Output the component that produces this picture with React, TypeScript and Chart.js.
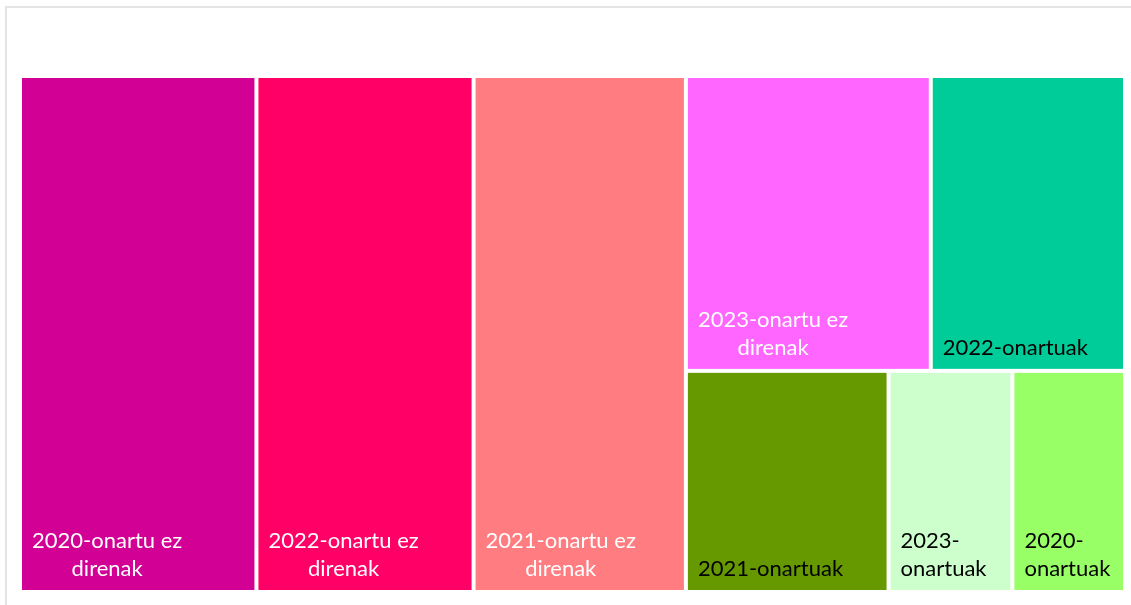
import React, { useEffect, useRef } from "react";
import { Chart, registerables } from "chart.js";

Chart.register(...registerables);

// ---- data ----
const categories = [
  "2020-onartu ez direnak",
  "2022-onartu ez direnak",
  "2021-onartu ez direnak",
  "2023-onartu ez direnak",
  "2022-onartuak",
  "2021-onartuak",
  "2023-onartuak",
  "2020-onartuak",
];
const values = [49, 45, 44, 29, 23, 18, 11, 10];
const fillColors = ["#D20094", "#FF0066", "#FF7C80", "#FF66FF", "#00CC99", "#669900", "#CCFFCC", "#99FF66"];
const labelColors = ["#FFFFFF", "#FFFFFF", "#FFFFFF", "#FFFFFF", "#000000", "#000000", "#000000", "#000000"];

const TARGET_HW = 1.3; // preferred height/width of a tile
const FONT = "22px Lato";

type Cell = { i: number; x0: number; y0: number; x1: number; y1: number };

// squarified treemap in data units [0,1]x[0,1], aspect judged in pixels
function layoutTreemap(vals: number[], pxX: number, pxY: number): Cell[] {
  const order = vals.map((_, i) => i).sort((a, b) => vals[b] - vals[a]);
  let x0 = 0, y0 = 0, x1 = 1, y1 = 1;
  const cells: Cell[] = [];
  let k = 0;
  while (k < order.length) {
    const W = (x1 - x0) * pxX;
    const H = (y1 - y0) * pxY;
    const column = H <= W;
    let total = 0;
    for (let j = k; j < order.length; j++) total += vals[order[j]];
    const cost = (n: number) => {
      let s = 0;
      for (let j = k; j < k + n; j++) s += vals[order[j]];
      let worst = 0;
      for (let j = k; j < k + n; j++) {
        const v = vals[order[j]];
        let hw: number;
        if (column) {
          const t = (s / total) * W;
          const ih = (v / s) * H;
          hw = ih / t;
        } else {
          const t = (s / total) * H;
          const iw = (v / s) * W;
          hw = t / iw;
        }
        worst = Math.max(worst, Math.abs(Math.log(hw / TARGET_HW)));
      }
      return worst;
    };
    let n = 1;
    let best = cost(1);
    while (k + n < order.length) {
      const c = cost(n + 1);
      if (c <= best) {
        best = c;
        n++;
      } else break;
    }
    let s = 0;
    for (let j = k; j < k + n; j++) s += vals[order[j]];
    if (column) {
      const xr = x0 + ((x1 - x0) * s) / total;
      let yy = y0;
      for (let j = k; j < k + n; j++) {
        const v = vals[order[j]];
        const yn = yy + ((y1 - y0) * v) / s;
        cells.push({ i: order[j], x0, y0: yy, x1: xr, y1: yn });
        yy = yn;
      }
      x0 = xr;
    } else {
      const yb = y0 + ((y1 - y0) * s) / total;
      let xx = x0;
      for (let j = k; j < k + n; j++) {
        const v = vals[order[j]];
        const xn = xx + ((x1 - x0) * v) / s;
        cells.push({ i: order[j], x0: xx, y0, x1: xn, y1: yb });
        xx = xn;
      }
      y0 = yb;
    }
    k += n;
  }
  return cells;
}

// greedy wrap on spaces and after hyphens
function wrapText(ctx: CanvasRenderingContext2D, text: string, maxW: number) {
  const tokens: { t: string; hy: boolean }[] = [];
  const re = /[^\s-]+-|[^\s-]+|\s+/g;
  let m: RegExpExecArray | null;
  while ((m = re.exec(text))) tokens.push({ t: m[0], hy: m[0].endsWith("-") });
  const lines: string[] = [];
  let cur = "";
  let hyphenBreak = false;
  let lastHy = false;
  for (const tk of tokens) {
    if (/^\s+$/.test(tk.t)) {
      cur += tk.t;
      lastHy = false;
      continue;
    }
    const trial = cur + tk.t;
    if (cur.trim() && ctx.measureText(trial.trim()).width > maxW) {
      if (lastHy) hyphenBreak = true;
      lines.push(cur.trim());
      cur = tk.t;
    } else cur = trial;
    lastHy = tk.hy;
  }
  if (cur.trim()) lines.push(cur.trim());
  return { lines, hyphenBreak };
}

const treemapPlugin = {
  id: "treemapCells",
  afterDatasetsDraw(chart: any) {
    const xs = chart.scales.x;
    const ys = chart.scales.y;
    const pxX = Math.abs(xs.getPixelForValue(1) - xs.getPixelForValue(0));
    const pxY = Math.abs(ys.getPixelForValue(1) - ys.getPixelForValue(0));
    const cells = layoutTreemap(values, pxX, pxY);
    const ctx: CanvasRenderingContext2D = chart.ctx;
    ctx.save();
    const gap = 2;
    for (const c of cells) {
      const l = xs.getPixelForValue(c.x0);
      const r = xs.getPixelForValue(c.x1);
      const t = ys.getPixelForValue(c.y0);
      const b = ys.getPixelForValue(c.y1);
      const left = Math.min(l, r) + gap;
      const right = Math.max(l, r) - gap;
      const top = Math.min(t, b) + gap;
      const bottom = Math.max(t, b) - gap;
      ctx.fillStyle = fillColors[c.i];
      ctx.fillRect(left, top, right - left, bottom - top);

      ctx.font = FONT;
      ctx.fillStyle = labelColors[c.i];
      ctx.textBaseline = "alphabetic";
      const { lines, hyphenBreak } = wrapText(ctx, categories[c.i], right - left - 20);
      const widths = lines.map((ln) => ctx.measureText(ln).width);
      const blockW = Math.max(...widths);
      const lineH = 28;
      const bx = left + 10;
      let by = bottom - 14 - (lines.length - 1) * lineH;
      lines.forEach((ln, idx) => {
        const lx = hyphenBreak ? bx : bx + (blockW - widths[idx]) / 2;
        ctx.textAlign = "left";
        ctx.fillText(ln, lx, by);
        by += lineH;
      });
    }
    ctx.restore();
  },
};

export default function App() {
  const ref = useRef<HTMLCanvasElement | null>(null);
  useEffect(() => {
    if (!ref.current) return;
    const chart = new Chart(ref.current, {
      type: "scatter",
      data: {
        datasets: [
          {
            label: "Treemap",
            data: values.map((v, i) => ({ x: 0, y: 0 })).slice(0, 0),
            pointRadius: 0,
          },
        ],
      },
      options: {
        animation: false,
        responsive: false,
        events: [],
        layout: { padding: { left: 20, top: 76, right: 6, bottom: 13 } },
        plugins: { legend: { display: false }, tooltip: { enabled: false }, title: { display: false } },
        scales: {
          x: { type: "linear", min: 0, max: 1, display: false },
          y: { type: "linear", min: 0, max: 1, reverse: true, display: false },
        },
      },
      plugins: [treemapPlugin],
    });
    return () => chart.destroy();
  }, []);
  return (
    <div style={{ position: "absolute", left: 0, top: 0, width: 1131, height: 605, overflow: "hidden", background: "#fff" }}>
      <div
        style={{
          position: "absolute",
          left: 5,
          top: 6,
          width: 1200,
          height: 700,
          border: "2px solid #e4e4e4",
          boxSizing: "border-box",
        }}
      />
      <canvas ref={ref} width={1131} height={605} style={{ position: "absolute", left: 0, top: 0 }} />
    </div>
  );
}
